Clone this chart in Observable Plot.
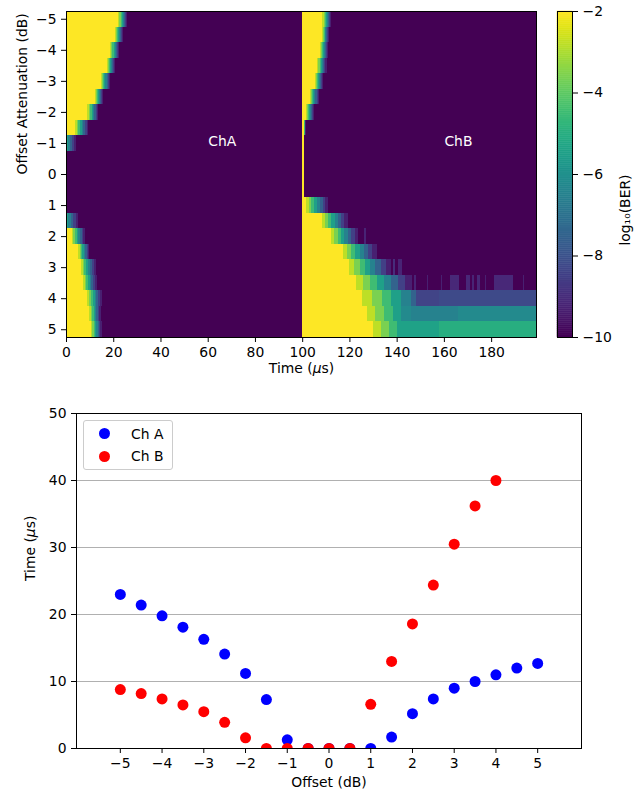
<!DOCTYPE html>
<html>
<head>
<meta charset="utf-8">
<script src="https://cdn.jsdelivr.net/npm/d3@7"></script>
<script src="https://cdn.jsdelivr.net/npm/@observablehq/plot@0.6"></script>
<style>
  html, body { margin: 0; padding: 0; background: #ffffff; }
  #fig { position: relative; width: 644px; height: 796px; font-family: "DejaVu Sans", sans-serif; color: #000; }
  #fig .part { position: absolute; }
  #legend { position: absolute; left: 83px; top: 420px; width: 88px; height: 48px; border: 1px solid #cccccc; border-radius: 3px; background: rgba(255,255,255,0.8); font-size: 13.9px; }
  #legend .sw { position: absolute; width: 11px; height: 11px; border-radius: 50%; }
  #legend .lab { position: absolute; white-space: nowrap; line-height: 16px; }
</style>
</head>
<body>
<div id="fig"></div>
<script>
// ---------------- data ----------------
// Heatmap rows: offset attenuation (dB)
const offsets = [-5, -4.5, -4, -3.5, -3, -2.5, -2, -1.5, -1, -0.5, 0, 0.5, 1, 1.5, 2, 2.5, 3, 3.5, 4, 4.5, 5];

// Channel A (time 0..100 µs): level at start, end of saturated span, time the BER reaches the floor, floor level
const chA_peak  = [-2, -2, -2, -2, -2, -2, -2, -2, -5, -10, -10, -10, -10, -5, -2, -2, -2, -2, -2, -2, -2];
const chA_sat   = [22.2, 20.8, 18.7, 17.3, 14.7, 12.3, 9.1, 3.8, 0, 0, 0, 0, 0, 0, 2.4, 5.2, 6.2, 7.1, 9.1, 9.9, 10.5];
const chA_clear = [25.8, 24.3, 22.6, 20.8, 18.7, 15.8, 13.7, 9.5, 4.2, 0, 0, 0, 0, 5.2, 8.1, 9.9, 12.7, 13.0, 15.1, 14.7, 15.1];
const chA_floor = [-10, -10, -10, -10, -10, -10, -10, -10, -10, -10, -10, -10, -10, -10, -10, -10, -10, -10, -10, -10, -10];

// Channel B (time 100..199 µs, values relative to 100 µs)
const chB_peak  = [-2, -2, -2, -2, -2, -2, -2, -2, -2, -2, -2, -2, -2, -2, -2, -2, -2, -2, -2, -2, -2];
const chB_sat   = [8.6, 8.3, 7.4, 6.4, 5.4, 3.2, 1.5, 0.7, 0.7, 0.7, 0.7, 0.7, 1.5, 8.3, 12.1, 17.1, 19.9, 22.7, 25.5, 27.3, 29.8];
const chB_clear = [12.1, 11.4, 11.0, 10.3, 8.8, 7.1, 5.0, 1.5, 0.7, 0.7, 0.7, 0.7, 11.0, 19.2, 23.7, 31.5, 37.6, 46.3, 50, 42, 40];
const chB_floor = [-10, -10, -10, -10, -10, -10, -10, -10, -10, -10, -10, -10, -10, -10, -10, -10, -10, -10, -8.2, -6.2, -5.0];
// isolated error bursts and level changes in channel B: [offset, from, to, level]
const chB_bursts = [
  [2, 26.3, 26.9, -9.2],
  [3, 38.5, 39.3, -9.0], [3, 40.7, 42.1, -9.2],
  [3.5, 47.5, 48.0, -9.2], [3.5, 53.0, 53.4, -9.3], [3.5, 58.8, 59.3, -9.3], [3.5, 62.5, 66.4, -9.1],
  [3.5, 69.2, 71.0, -9.1], [3.5, 72.1, 72.8, -9.2], [3.5, 74.2, 75.2, -9.1], [3.5, 77.4, 77.9, -9.3],
  [3.5, 81.3, 89.3, -9.1], [3.5, 93.5, 94.0, -9.3],
  [4, 48, 58, -8.4],
  [4.5, 46, 66, -6.5],
  [5, 40, 58, -5.4]
];
// BER levels passed through while a transient decays
const fadeLevels = [-2.8, -3.6, -4.5, -5.5, -6.5, -7.5, -8.5, -9.3];

const channelLabels = [{name: "ChA", t: 60, off: -1}, {name: "ChB", t: 160, off: -1}];
const timeTicks = [0, 20, 40, 60, 80, 100, 120, 140, 160, 180];
const offsetTicks = [-5, -4, -3, -2, -1, 0, 1, 2, 3, 4, 5];
const cbTicks = [-2, -4, -6, -8, -10];

// Scatter: recovery time vs offset
const scatterOffsetsA = [-5, -4.5, -4, -3.5, -3, -2.5, -2, -1.5, -1, -0.5, 0, 0.5, 1, 1.5, 2, 2.5, 3, 3.5, 4, 4.5, 5];
const chA_time = [23.0, 21.4, 19.8, 18.1, 16.3, 14.1, 11.2, 7.3, 1.3, 0, 0, 0, 0, 1.7, 5.2, 7.4, 9.0, 10.0, 11.0, 12.0, 12.7];
const scatterOffsetsB = [-5, -4.5, -4, -3.5, -3, -2.5, -2, -1.5, -1, -0.5, 0, 0.5, 1, 1.5, 2, 2.5, 3, 3.5, 4];
const chB_time = [8.8, 8.2, 7.4, 6.5, 5.5, 3.9, 1.6, 0, 0, 0, 0, 0, 6.6, 13.0, 18.6, 24.4, 30.5, 36.2, 40.0];
const scatterYTicks = [0, 10, 20, 30, 40, 50];
const gridTicks = [10, 20, 30, 40];
const seriesNames = ["Ch A", "Ch B"];
const seriesColors = ["#0000ff", "#ff0000"];

// ---------------- build ----------------
const fmt = d => (d < 0 ? "\u2212" + Math.abs(d) : String(d));
const baseStyle = {fontFamily: '"DejaVu Sans", sans-serif', fontSize: "13.9px", background: "white", color: "black", overflow: "visible"};
const colorOpts = {type: "linear", scheme: "viridis", domain: [-10, -2], clamp: true};

const bgCells = [];
const fgCells = [];
function buildCells(start, end, peak, sat, clear, floor) {
  offsets.forEach((off, i) => {
    bgCells.push({off, x1: start, x2: end, v: floor[i]});
    if (sat[i] > 0) fgCells.push({off, x1: start, x2: start + sat[i], v: peak[i]});
    const steps = fadeLevels.filter(v => v < peak[i] && v > floor[i]);
    const w = (clear[i] - sat[i]) / steps.length;
    if (w > 0) steps.forEach((v, k) => fgCells.push({off, x1: start + sat[i] + k * w, x2: start + sat[i] + (k + 1) * w, v}));
  });
}
buildCells(0, 100, chA_peak, chA_sat, chA_clear, chA_floor);
buildCells(100, 199, chB_peak, chB_sat, chB_clear, chB_floor);
chB_bursts.forEach(([off, a, b, v]) => fgCells.push({off, x1: 100 + a, x2: 100 + b, v}));

function italicMu(svg) {
  svg.querySelectorAll("text").forEach(t => {
    if (t.children.length === 0 && t.textContent.includes("μ")) {
      const parts = t.textContent.split("μ");
      t.textContent = "";
      parts.forEach((p, i) => {
        if (i > 0) {
          const ts = document.createElementNS("http://www.w3.org/2000/svg", "tspan");
          ts.setAttribute("font-style", "italic");
          ts.textContent = "μ";
          t.appendChild(ts);
        }
        t.appendChild(document.createTextNode(p));
      });
    }
  });
}

const cellOpts = {x1: "x1", x2: "x2", y1: d => d.off - 0.25, y2: d => d.off + 0.25, fill: "v", shapeRendering: "crispEdges", clip: true};
const heat = Plot.plot({
  width: 644, height: 390,
  marginLeft: 66, marginRight: 108, marginTop: 11, marginBottom: 53,
  style: baseStyle,
  x: {domain: [0, 199], ticks: timeTicks, tickSize: 5, tickPadding: 5, label: null},
  y: {domain: [5.25, -5.25], ticks: offsetTicks, tickFormat: fmt, tickSize: 5, tickPadding: 5, label: null},
  color: colorOpts,
  marks: [
    Plot.rect(bgCells, cellOpts),
    Plot.rect(fgCells, cellOpts),
    Plot.text(channelLabels, {x: "t", y: "off", text: "name", fill: "white", textAnchor: "start", lineAnchor: "middle", dy: -2, fontSize: 13.9}),
    Plot.frame({stroke: "black", strokeWidth: 1}),
    Plot.text(["Time (μs)"], {text: d => d, frameAnchor: "bottom", dy: 35, fontSize: 13.9}),
    Plot.text(["Offset Attenuation (dB)"], {text: d => d, frameAnchor: "left", rotate: -90, dx: -44, fontSize: 13.9})
  ]
});

const cbStep = 0.05;
const cbLevels = d3.range(-10, -2, cbStep);
const cbar = Plot.plot({
  width: 104, height: 390,
  marginLeft: 17, marginRight: 72, marginTop: 11, marginBottom: 53,
  style: baseStyle,
  x: {domain: [0, 1], axis: null},
  y: {domain: [-10, -2], ticks: cbTicks, tickFormat: fmt, axis: "right", tickSize: 5, tickPadding: 5, label: null},
  color: colorOpts,
  marks: [
    Plot.rect(cbLevels, {x1: () => 0, x2: () => 1, y1: d => d, y2: d => d + cbStep, fill: d => d + cbStep / 2, stroke: d => d + cbStep / 2, strokeWidth: 0.5}),
    Plot.frame({stroke: "black", strokeWidth: 1}),
    Plot.text(["log₁₀(BER)"], {text: d => d, frameAnchor: "right", rotate: -90, dx: 53, fontSize: 13.9})
  ]
});

const ptsA = scatterOffsetsA.map((o, i) => ({o, t: chA_time[i]}));
const ptsB = scatterOffsetsB.map((o, i) => ({o, t: chB_time[i]}));
const scat = Plot.plot({
  width: 644, height: 406,
  marginLeft: 76, marginRight: 63, marginTop: 23, marginBottom: 48,
  style: baseStyle,
  x: {domain: [-6.05, 6.05], ticks: offsetTicks, tickFormat: fmt, tickSize: 5, tickPadding: 5, label: null},
  y: {domain: [0, 50], ticks: scatterYTicks, tickSize: 5, tickPadding: 5, label: null},
  marks: [
    Plot.ruleY(gridTicks, {stroke: "#b0b0b0", strokeWidth: 1.1}),
    Plot.dot(ptsA, {x: "o", y: "t", r: 5.5, fill: seriesColors[0], stroke: "none", clip: true}),
    Plot.dot(ptsB, {x: "o", y: "t", r: 5.5, fill: seriesColors[1], stroke: "none", clip: true}),
    Plot.frame({stroke: "black", strokeWidth: 1}),
    Plot.text(["Offset (dB)"], {text: d => d, frameAnchor: "bottom", dy: 38, fontSize: 13.9}),
    Plot.text(["Time (μs)"], {text: d => d, frameAnchor: "left", rotate: -90, dx: -46, fontSize: 13.9})
  ]
});

[heat, cbar, scat].forEach(italicMu);

const fig = document.getElementById("fig");
function place(node, left, top) {
  const d = document.createElement("div");
  d.className = "part";
  d.style.left = left + "px";
  d.style.top = top + "px";
  d.appendChild(node);
  fig.appendChild(d);
}
place(heat, 0, 0);
place(cbar, 540, 0);
place(scat, 0, 390);

// legend
const leg = document.createElement("div");
leg.id = "legend";
seriesNames.forEach((name, i) => {
  const sw = document.createElement("span");
  sw.className = "sw";
  sw.style.left = "15px";
  sw.style.top = (7 + i * 22.6) + "px";
  sw.style.background = seriesColors[i];
  const lab = document.createElement("span");
  lab.className = "lab";
  lab.style.left = "47px";
  lab.style.top = (4.5 + i * 22.6) + "px";
  lab.textContent = name;
  leg.appendChild(sw);
  leg.appendChild(lab);
});
fig.appendChild(leg);
</script>
</body>
</html>
